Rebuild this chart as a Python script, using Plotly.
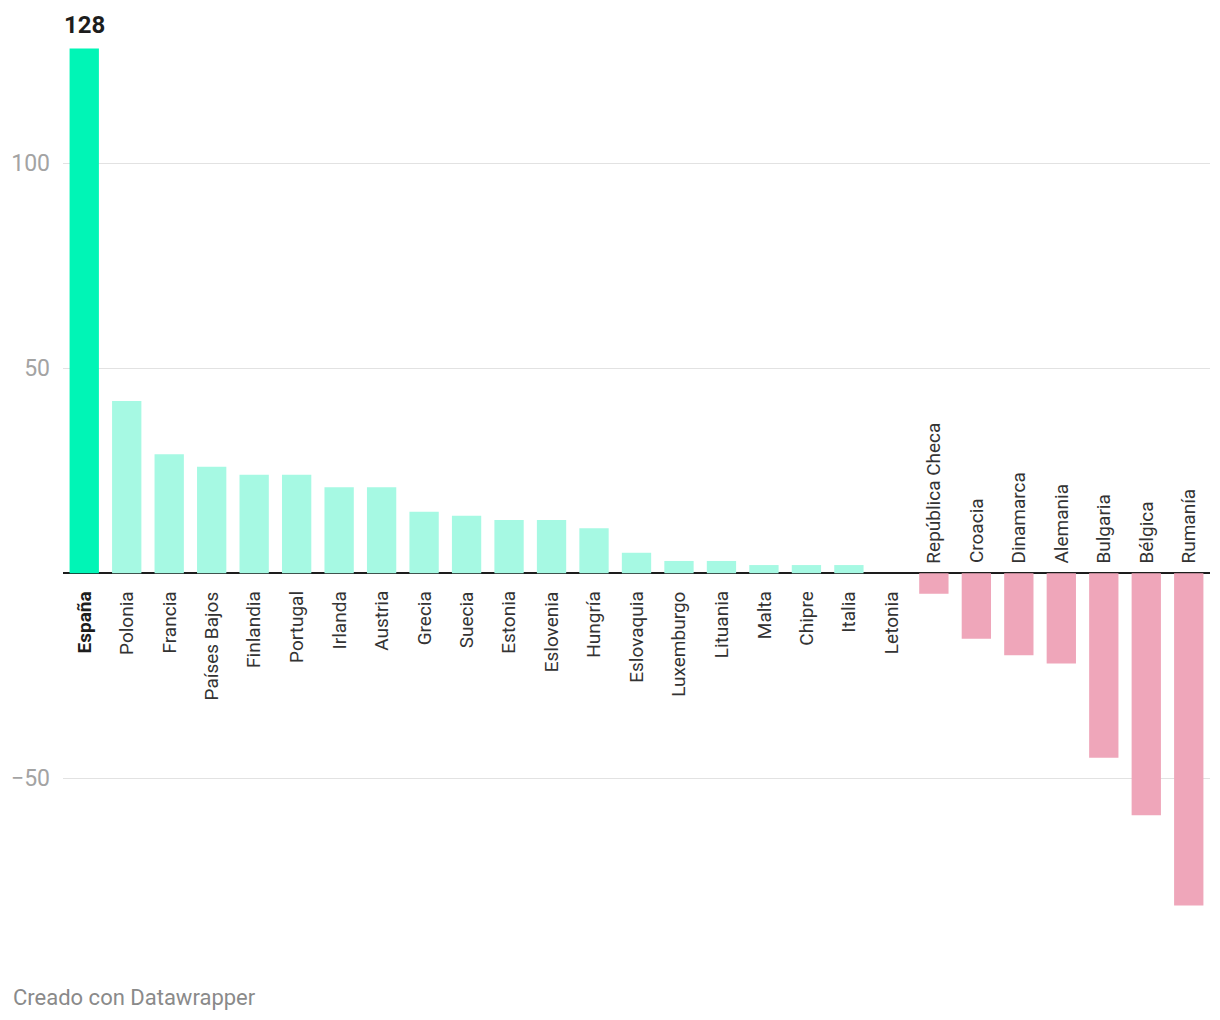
import plotly.graph_objects as go

countries = ["España", "Polonia", "Francia", "Países Bajos", "Finlandia", "Portugal",
             "Irlanda", "Austria", "Grecia", "Suecia", "Estonia", "Eslovenia", "Hungría",
             "Eslovaquia", "Luxemburgo", "Lituania", "Malta", "Chipre", "Italia", "Letonia",
             "República Checa", "Croacia", "Dinamarca", "Alemania", "Bulgaria", "Bélgica",
             "Rumanía"]
values = [128, 42, 29, 26, 24, 24, 21, 21, 15, 14, 13, 13, 11, 5, 3, 3, 2, 2, 2, 0,
          -5, -16, -20, -22, -45, -59, -81]
highlight = "España"
tick_vals = [-50, 50, 100]
tick_text = ["−50", "50", "100"]

C_HI = "#00f5b6"
C_POS = "#a6f9e3"
C_NEG = "#efa6ba"

colors = [C_HI if c == highlight else (C_POS if v >= 0 else C_NEG)
          for c, v in zip(countries, values)]

W, H = 1204, 1004
ML, MT, MR, MB = 55, 24, 2, 82

fig = go.Figure(go.Bar(x=countries, y=values, marker=dict(color=colors, line=dict(width=0)),
                       width=0.69, hoverinfo="skip"))

annotations = []
for c, v in zip(countries, values):
    is_hi = c == highlight
    txt = f"<b>{c}</b>" if is_hi else c
    annotations.append(dict(
        x=c, y=0, xref="x", yref="y", text=txt, showarrow=False, textangle=-90,
        yanchor="top" if v >= 0 else "bottom", xanchor="center",
        yshift=-16 if v >= 0 else 8,
        font=dict(family="Roboto", size=19, color="#1d1d1d" if is_hi else "#333333"),
    ))
    if is_hi:
        annotations.append(dict(
            x=c, y=v, xref="x", yref="y", text=f"<b>{v}</b>", showarrow=False,
            yanchor="bottom", xanchor="center", yshift=7,
            font=dict(family="Roboto", size=24, color="#1d1d1d"),
        ))

plot_h = H - MT - MB
plot_w = W - ML - MR
annotations.append(dict(
    x=(3 - ML) / plot_w, y=(H - MB - 989) / plot_h, xref="paper", yref="paper",
    text="Creado con Datawrapper", showarrow=False,
    xanchor="left", yanchor="middle", font=dict(family="Roboto", size=22, color="#8a8a8a"),
))

fig.update_layout(
    width=W, height=H,
    margin=dict(l=ML, r=MR, t=MT, b=MB),
    plot_bgcolor="white", paper_bgcolor="white",
    showlegend=False,
    annotations=annotations,
    xaxis=dict(showticklabels=False, showgrid=False, zeroline=False, ticks="",
               range=[-0.5, len(countries) - 0.5], fixedrange=True),
    yaxis=dict(range=[-87, 132], tickvals=tick_vals, ticktext=tick_text,
               showgrid=True, gridcolor="#e2e2e2", gridwidth=1,
               zeroline=True, zerolinecolor="#1d1d1d", zerolinewidth=2,
               tickfont=dict(family="Roboto", size=23, color="#a3a3a3"),
               ticks="", ticklabelstandoff=12, fixedrange=True),
)

fig.write_html("out.html")
